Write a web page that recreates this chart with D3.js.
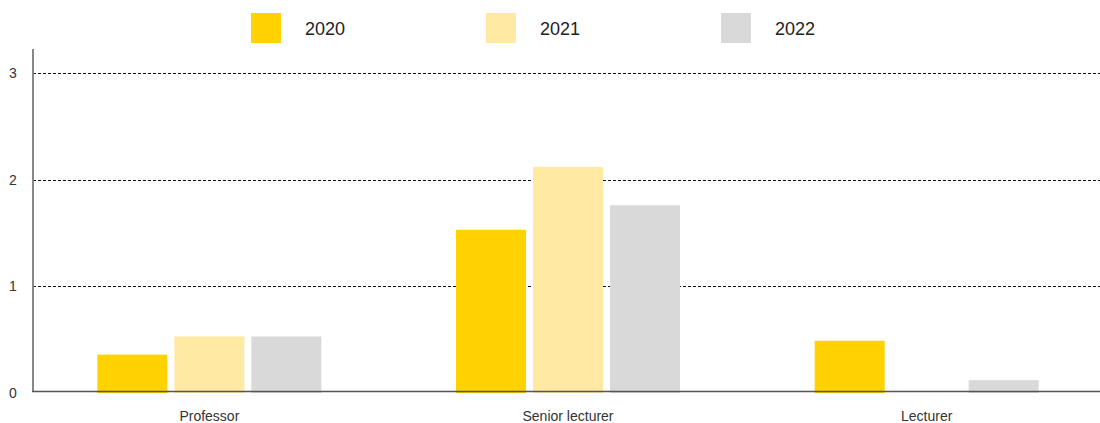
<!DOCTYPE html>
<html>
<head>
<meta charset="utf-8">
<script src="https://cdn.jsdelivr.net/npm/d3@7"></script>
<style>
  body { margin: 0; background: #fff; }
  svg { display: block; font-family: "Liberation Sans", Arial, sans-serif; }
</style>
</head>
<body>
<svg id="chart" width="1100" height="423"></svg>
<script>
const categories = ["Professor", "Senior lecturer", "Lecturer"];
const seriesNames = ["2020", "2021", "2022"];
const values2020 = [0.36, 1.53, 0.49];
const values2021 = [0.53, 2.12, 0];
const values2022 = [0.53, 1.76, 0.12];
const yTicks = [0, 1, 2, 3];
const colors = ["#FFD200", "#FFE9A3", "#D9D9D9"];

const seriesValues = [values2020, values2021, values2022];

const svg = d3.select("#chart");
const axisX = 33, plotRight = 1100, plotTop = 49, baseY = 393;

const y = d3.scaleLinear().domain([0, 3.225]).range([baseY, plotTop]);
const x0 = d3.scaleBand().domain(categories).range([30, 1106]).padding(0);
const x1 = d3.scaleBand().domain(seriesNames).range([-112, 112]).paddingInner(7 / 77).paddingOuter(0);
const color = d3.scaleOrdinal().domain(seriesNames).range(colors);

// dashed gridlines
svg.append("g").selectAll("line")
  .data(yTicks.filter(d => d > 0))
  .join("line")
  .attr("x1", axisX).attr("x2", plotRight)
  .attr("y1", d => Math.round(y(d)) + 0.5).attr("y2", d => Math.round(y(d)) + 0.5)
  .attr("stroke", "#111").attr("stroke-width", 1)
  .attr("stroke-dasharray", "3,2");

// y tick labels
svg.append("g").selectAll("text")
  .data(yTicks)
  .join("text")
  .attr("x", 13).attr("y", d => y(d))
  .attr("text-anchor", "middle").attr("dominant-baseline", "central")
  .attr("font-size", 14).attr("fill", "#333")
  .text(d => d);

// bars
const groups = svg.append("g").selectAll("g")
  .data(categories)
  .join("g")
  .attr("transform", d => `translate(${x0(d) + x0.bandwidth() / 2},0)`);

groups.selectAll("rect")
  .data((c, i) => seriesNames.map((s, j) => ({ s, v: seriesValues[j][i] })))
  .join("rect")
  .attr("x", d => x1(d.s))
  .attr("width", x1.bandwidth())
  .attr("y", d => y(d.v))
  .attr("height", d => baseY - y(d.v))
  .attr("fill", d => color(d.s));

// category labels
groups.append("text")
  .attr("y", 421)
  .attr("text-anchor", "middle")
  .attr("font-size", 14).attr("fill", "#333")
  .text(d => d);

// axes lines
svg.append("line")
  .attr("x1", axisX).attr("x2", axisX).attr("y1", plotTop).attr("y2", baseY - 1)
  .attr("stroke", "#888").attr("stroke-width", 2);
svg.append("line")
  .attr("x1", axisX - 1).attr("x2", plotRight).attr("y1", baseY - 1.5).attr("y2", baseY - 1.5)
  .attr("stroke", "#555").attr("stroke-width", 1.5);

// legend
const legend = svg.append("g").selectAll("g")
  .data(seriesNames)
  .join("g")
  .attr("transform", (d, i) => `translate(${251 + i * 235},13)`);
legend.append("rect")
  .attr("width", 30).attr("height", 30)
  .attr("fill", d => color(d));
legend.append("text")
  .attr("x", 54).attr("y", 16)
  .attr("dominant-baseline", "central")
  .attr("font-size", 18).attr("fill", "#222")
  .text(d => d);
</script>
</body>
</html>
